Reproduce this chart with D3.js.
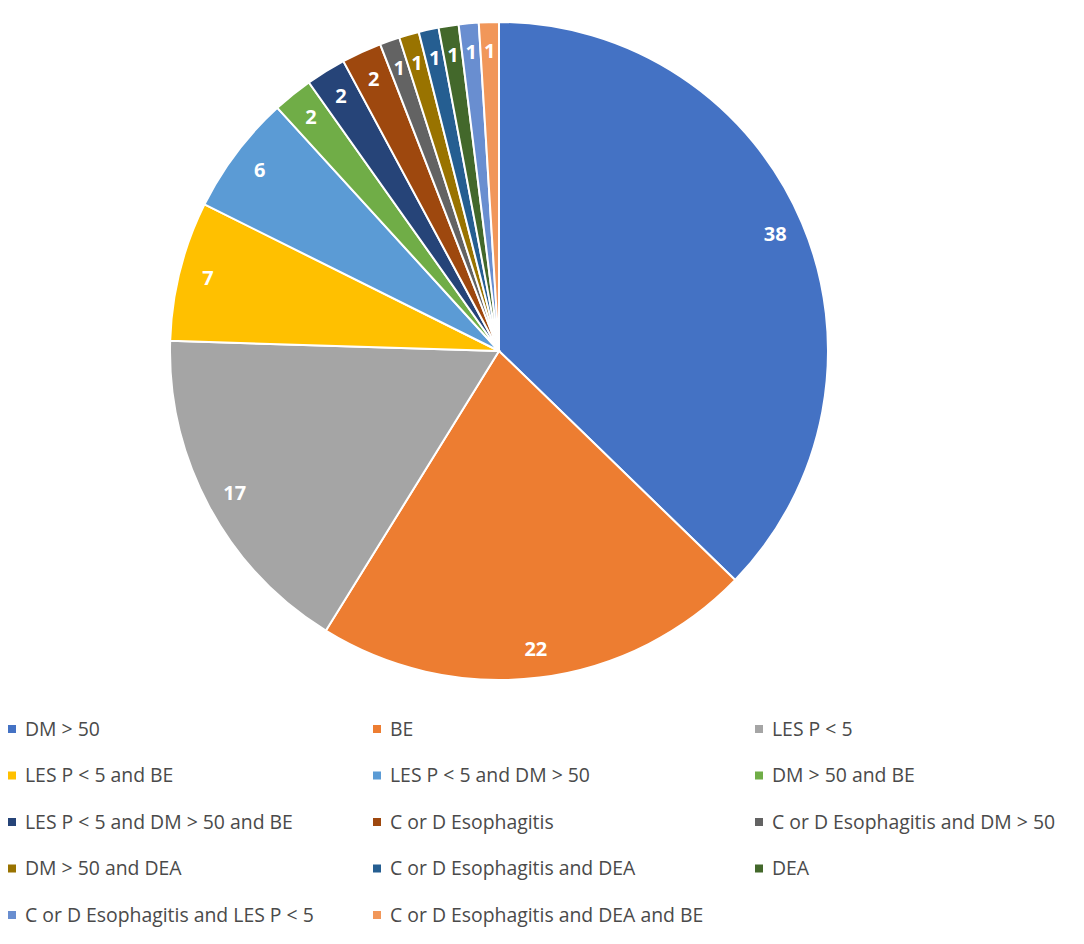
<!DOCTYPE html>
<html>
<head>
<meta charset="utf-8">
<script src="https://cdn.jsdelivr.net/npm/d3@7"></script>
<style>
  body { margin: 0; background: #fff; }
  svg text { font-family: "Open Sans", sans-serif; }
</style>
</head>
<body>
<svg id="chart" width="1084" height="944"></svg>
<script>
// categories, in drawing order (clockwise from 12 o'clock)
const categories = [
  "DM > 50", "BE", "LES P < 5",
  "LES P < 5 and BE", "LES P < 5 and DM > 50", "DM > 50 and BE",
  "LES P < 5 and DM > 50 and BE", "C or D Esophagitis", "C or D Esophagitis and DM > 50",
  "DM > 50 and DEA", "C or D Esophagitis and DEA", "DEA",
  "C or D Esophagitis and LES P < 5", "C or D Esophagitis and DEA and BE"
];
const counts = [38, 22, 17, 7, 6, 2, 2, 2, 1, 1, 1, 1, 1, 1];
const colours = [
  "#4472C4", "#ED7D31", "#A5A5A5", "#FFC000", "#5B9BD5", "#70AD47",
  "#264478", "#9E480E", "#636363", "#997300", "#255E91", "#43682B",
  "#698ED0", "#F1975A"
];

const svg = d3.select("#chart");
const cx = 499, cy = 351, radius = 329;

const data = categories.map((c, i) => ({ name: c, value: counts[i], colour: colours[i] }));

const pie = d3.pie().value(d => d.value).sort(null);
const arc = d3.arc().innerRadius(0).outerRadius(radius);
const labelArc = d3.arc().innerRadius(300).outerRadius(300);

const pieG = svg.append("g").attr("transform", `translate(${cx},${cy})`);

const slices = pieG.selectAll(".slice")
  .data(pie(data))
  .enter().append("g")
    .attr("class", "slice");

slices.append("path")
  .attr("d", arc)
  .attr("fill", d => d.data.colour)
  .attr("stroke", "#fff")
  .attr("stroke-width", 2);

slices.append("text")
  .attr("transform", d => `translate(${labelArc.centroid(d)})`)
  .attr("text-anchor", "middle")
  .attr("dy", "0.36em")
  .attr("fill", "#fff")
  .style("font-weight", "bold")
  .style("font-size", "20px")
  .text(d => d.data.value);

// legend: 3 columns
const colX = [8, 373, 755];
const rowY0 = 729, rowStep = 46.5;

const legend = svg.append("g").attr("class", "legend");
const items = legend.selectAll(".item")
  .data(data)
  .enter().append("g")
    .attr("class", "item")
    .attr("transform", (d, i) => `translate(${colX[i % 3]},${rowY0 + Math.floor(i / 3) * rowStep})`);

items.append("rect")
  .attr("x", 0).attr("y", -4)
  .attr("width", 8).attr("height", 8)
  .attr("fill", d => d.colour);

items.append("text")
  .attr("x", 17)
  .attr("dy", "0.35em")
  .attr("fill", "#4a4a4a")
  .style("font-size", "19.4px")
  .text(d => d.name);
</script>
</body>
</html>
